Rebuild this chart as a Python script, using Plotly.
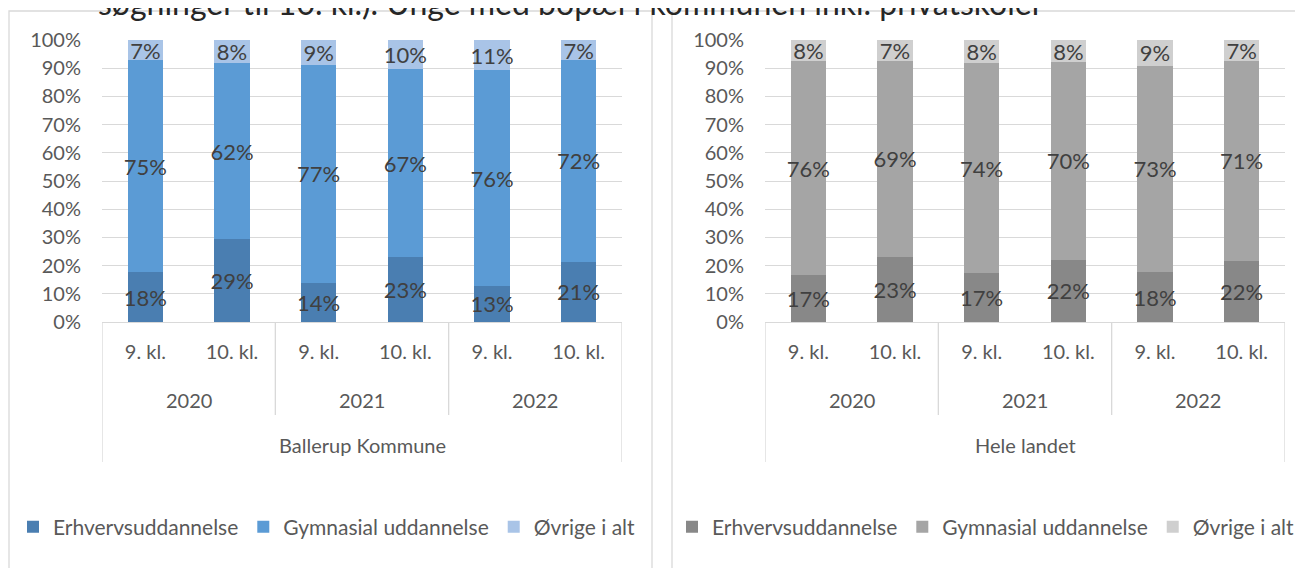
import plotly.graph_objects as go

W, H = 1303, 568
OFF = 8  # page body margin in the browser

years = ["2020", "2021", "2022"]
classes = ["9. kl.", "10. kl."]
areas = ["Ballerup Kommune", "Hele landet"]
series = ["Erhvervsuddannelse", "Gymnasial uddannelse", "Øvrige i alt"]

# Ballerup Kommune (percent), order: 2020 9/10, 2021 9/10, 2022 9/10
ballerup_erhverv = [17.6, 29.3, 13.9, 23.0, 12.8, 21.3]
ballerup_gym = [75.3, 62.4, 77.2, 66.6, 76.4, 71.6]
ballerup_ovrige = [7.1, 8.3, 8.9, 10.4, 10.8, 7.1]

# Hele landet (percent)
landet_erhverv = [16.7, 23.2, 17.4, 22.1, 17.7, 21.7]
landet_gym = [75.7, 69.4, 74.4, 70.1, 73.2, 70.9]
landet_ovrige = [7.6, 7.4, 8.2, 7.8, 9.1, 7.4]

title_text = "søgninger til 10. kl.). Unge med bopæl i kommunen inkl. privatskoler"

blue_colors = ["#4a7eb1", "#5b9bd5", "#a9c4e7"]
grey_colors = ["#888888", "#a5a5a5", "#cfcfcf"]

FONT = "Lato, 'Open Sans', sans-serif"
TXT = "#595959"
LBL = "#404040"
GRID = "#d9d9d9"

xcat = [f"{y} {c}" for y in years for c in classes]
ticktext = [c for _ in years for c in classes]

fig = go.Figure()

panels = [
    ("x", "y", "legend", [ballerup_erhverv, ballerup_gym, ballerup_ovrige], blue_colors),
    ("x2", "y2", "legend2", [landet_erhverv, landet_gym, landet_ovrige], grey_colors),
]

for xa, ya, lg, vals, cols in panels:
    for name, v, c in zip(series, vals, cols):
        fig.add_trace(go.Bar(
            x=xcat, y=v, name=name, marker=dict(color=c, line=dict(width=0)),
            xaxis=xa, yaxis=ya, legend=lg,
            texttemplate="%{y:.0f}%", textposition="inside",
            insidetextanchor="middle", constraintext="none", textangle=0,
            textfont=dict(family=FONT, size=22, color=LBL),
            hoverinfo="skip",
        ))

# plot area geometry (screen pixels)
left_x = (102, 622)
right_x = (765, 1285)
y_top, y_bot = 40, 322

def px(x):
    return (x - OFF) / W

def py(y):
    return (H - (y - OFF)) / H

axis_common = dict(
    type="category", categoryorder="array", categoryarray=xcat,
    tickvals=xcat, ticktext=ticktext, showgrid=False, showline=True,
    linecolor=GRID, linewidth=1.3, ticks="", range=[-0.5, 5.5],
    tickfont=dict(family=FONT, size=20, color=TXT), ticklabelstandoff=12,
    fixedrange=True, automargin=False,
)
yaxis_common = dict(
    range=[0, 100], dtick=10, ticksuffix="%", showgrid=True, gridcolor=GRID,
    gridwidth=1.3, zeroline=False, showline=False, ticks="",
    tickfont=dict(family=FONT, size=20, color=TXT), ticklabelstandoff=20,
    fixedrange=True, automargin=False, domain=[py(y_bot), py(y_top)],
)

shapes = []
annotations = []

for xa, xr in (("x", left_x), ("x2", right_x)):
    # group dividers
    for i, xv in enumerate([-0.5, 1.5, 3.5, 5.5]):
        outer = i in (0, 3)
        shapes.append(dict(type="line", xref=xa, yref="paper", x0=xv, x1=xv,
                           y0=py(y_bot), y1=py(462 if outer else 415),
                           line=dict(color=GRID, width=1.3)))
    for j, yr in enumerate(years):
        annotations.append(dict(xref=xa, yref="paper", x=2 * j + 0.5, y=py(400),
                                text=yr, showarrow=False, xanchor="center", yanchor="middle",
                                font=dict(family=FONT, size=20, color=TXT)))

for xa, name in (("x", areas[0]), ("x2", areas[1])):
    annotations.append(dict(xref=xa, yref="paper", x=2.5, y=py(445), text=name,
                            showarrow=False, xanchor="center", yanchor="middle",
                            font=dict(family=FONT, size=20, color=TXT)))

# panel borders
shapes.append(dict(type="rect", xref="paper", yref="paper", x0=px(9), x1=px(652),
                   y0=-0.05, y1=py(11), line=dict(color=GRID, width=1.3), layer="below"))
shapes.append(dict(type="rect", xref="paper", yref="paper", x0=px(672), x1=1.05,
                   y0=-0.05, y1=py(11), line=dict(color=GRID, width=1.3), layer="below"))

# clipped title remnant at top
annotations.append(dict(xref="paper", yref="paper", x=px(96), y=py(3), text=title_text,
                        showarrow=False, xanchor="left", yanchor="middle",
                        font=dict(family=FONT, size=32, color="#262626")))

legend_common = dict(orientation="h", xanchor="left", yanchor="middle", traceorder="normal",
                     font=dict(family=FONT, size=21, color=TXT),
                     bgcolor="rgba(0,0,0,0)", itemclick=False, itemdoubleclick=False)

fig.update_layout(
    width=W, height=H, margin=dict(l=0, r=0, t=0, b=0, autoexpand=False),
    paper_bgcolor="white", plot_bgcolor="white",
    barmode="stack", bargap=0.596,
    xaxis=dict(domain=[px(left_x[0]), px(left_x[1])], anchor="y", **axis_common),
    yaxis=dict(anchor="x", **yaxis_common),
    xaxis2=dict(domain=[px(right_x[0]), px(right_x[1])], anchor="y2", **axis_common),
    yaxis2=dict(anchor="x2", **yaxis_common),
    legend=dict(x=px(13), y=py(527), **legend_common),
    legend2=dict(x=px(672), y=py(527), **legend_common),
    shapes=shapes, annotations=annotations,
    showlegend=True,
)

fig.write_html("out.html")
